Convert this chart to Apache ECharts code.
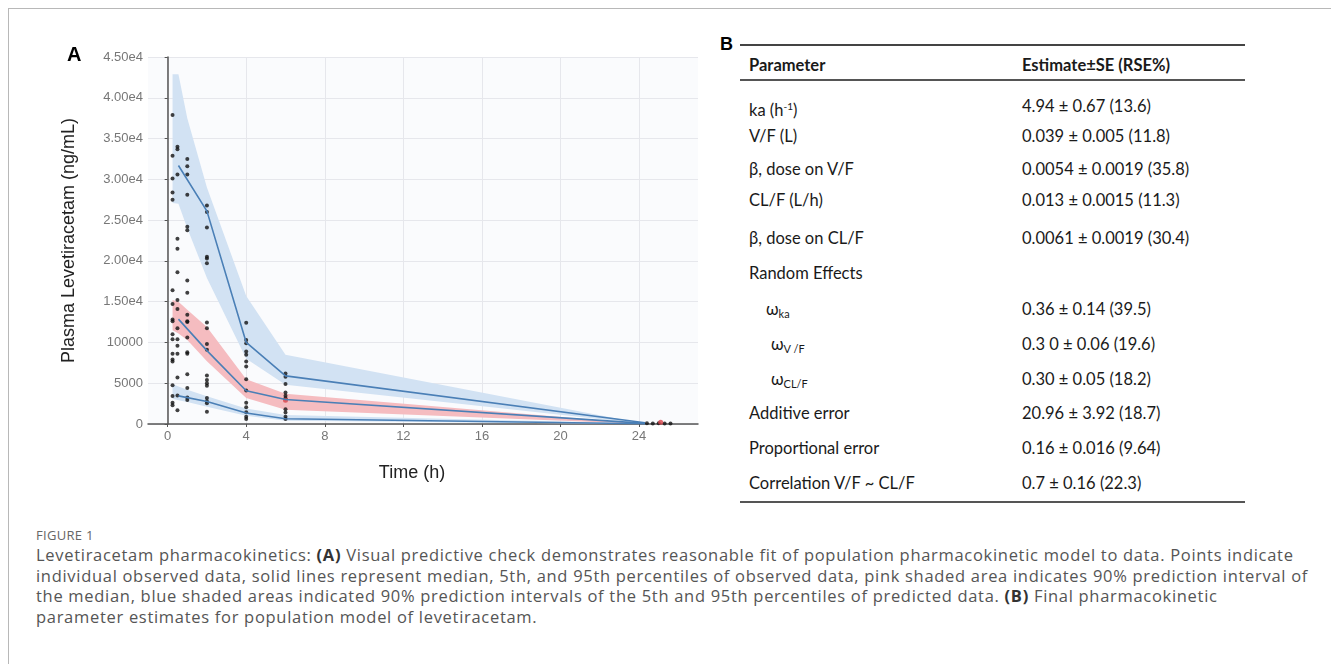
<!DOCTYPE html>
<html>
<head>
<meta charset="utf-8">
<script src="https://cdn.jsdelivr.net/npm/echarts@6/dist/echarts.min.js"></script>
<style>
  body { margin: 0; width: 1331px; height: 664px; overflow: hidden; background: #fff; position: relative; }
  #frame { position: absolute; left: 8px; top: 8px; width: 1340px; height: 680px; border-left: 1.5px solid #b8b8b8; border-top: 1.5px solid #b8b8b8; }
  #chart { position: absolute; left: 0; top: 0; width: 720px; height: 520px; }
  .panel { position: absolute; font-family: "Liberation Sans", Arial, sans-serif; font-weight: bold; color: #000; }
  .rule { position: absolute; left: 740px; width: 505px; background: #444; }
  .cell { position: absolute; font-family: Lato, "Noto Sans", sans-serif; font-size: 16.5px; line-height: 20px; color: #1a1a1a; white-space: nowrap; }
  .cell sub { font-size: 11px; vertical-align: -3px; }
  .cell sup { font-size: 10px; vertical-align: 6px; }
  #figlabel { position: absolute; left: 36px; top: 526px; font-family: "Open Sans", sans-serif; font-size: 13px; color: #666; letter-spacing: 0.3px; }
  #caption { position: absolute; left: 36px; top: 545px; font-family: "Open Sans", sans-serif; font-size: 16.5px; line-height: 20.5px; color: #555; letter-spacing: 0.7px; white-space: nowrap; }
  #caption b { color: #333; }
</style>
</head>
<body>
<div id="frame"></div>
<div id="chart"></div>
<div class="panel" style="left:67px; top:43px; font-size:20px;">A</div>
<div class="panel" style="left:720px; top:34px; font-size:18px;">B</div>
<div id="table"></div>
<div id="figlabel">FIGURE 1</div>
<div id="caption"></div>
<script>
// observed concentrations (ng/mL) by nominal sampling time
const obsTimes = [0.25, 0.5, 1, 2, 4, 6];
const obsAt025 = [37900, 32900, 30100, 28400, 27500, 16400, 14700, 12800, 12600, 11000, 10400, 8600, 7900, 7650, 4750, 3440, 2620, 2300];
const obsAt05 = [34000, 33700, 30600, 22700, 21500, 18600, 15200, 14100, 11750, 10400, 9600, 8600, 5700, 3500, 1700];
const obsAt1 = [32500, 31600, 30600, 28100, 24200, 23750, 17600, 16100, 13400, 12600, 12500, 10600, 8800, 8600, 6100, 4400, 3250, 2950];
const obsAt2 = [26800, 26000, 24100, 20500, 20300, 19700, 12450, 11750, 9800, 9100, 5950, 5400, 5000, 4700, 3200, 2800, 2550, 1500];
const obsAt4 = [12400, 10300, 9900, 8900, 8500, 7650, 7050, 5500, 4100, 2620, 2050, 1430, 900, 620];
const obsAt6 = [6200, 5800, 4900, 3850, 3450, 3150, 1800, 1400, 900, 620];
const tailTimes = [24.4, 24.7, 25.0, 25.3, 25.6];
const tailConc = [80, 60, 90, 70, 50];
const redTimes = [6, 25.1];
const redConc = [2900, 220];

// prediction intervals (shaded)
const bandT = [0.25, 0.55, 1, 2, 4, 6, 24.3];
const pi95Hi = [42900, 42900, 37500, 29000, 15700, 8500, 0];
const pi95Lo = [27100, 27000, 24000, 17900, 8000, 4800, 0];
const pi50Hi = [15200, 15000, 14000, 11900, 5500, 3700, 0];
const pi50Lo = [11500, 11100, 10300, 7700, 3200, 1750, 0];
const pi05Hi = [4900, 4600, 4200, 3400, 1900, 1100, 60];
const pi05Lo = [3100, 2900, 2700, 2100, 1000, 400, 0];

// observed percentiles (solid lines)
const lineT = [0.55, 2, 4, 6, 24.3];
const obs95 = [31700, 26100, 10000, 5900, 150];
const obs50 = [12860, 9000, 4080, 3000, 80];
const obs05 = [3450, 2750, 1350, 650, 30];

const xTicks = [0, 4, 8, 12, 16, 20, 24];

// table B
const paramNames = ['ka (h<sup>-1</sup>)', 'V/F (L)', 'β, dose on V/F', 'CL/F (L/h)', 'β, dose on CL/F',
  'Random Effects', 'ω<sub>ka</sub>', 'ω<sub>V /F</sub>', 'ω<sub>CL/F</sub>',
  'Additive error', 'Proportional error', 'Correlation V/F ~ CL/F'];
const paramValues = ['4.94 ± 0.67 (13.6)', '0.039 ± 0.005 (11.8)', '0.0054 ± 0.0019 (35.8)', '0.013 ± 0.0015 (11.3)',
  '0.0061 ± 0.0019 (30.4)', '', '0.36 ± 0.14 (39.5)', '0.3 0 ± 0.06 (19.6)', '0.30 ± 0.05 (18.2)',
  '20.96 ± 3.92 (18.7)', '0.16 ± 0.016 (9.64)', '0.7 ± 0.16 (22.3)'];

const captionLines = [
  'Levetiracetam pharmacokinetics: <b>(A)</b> Visual predictive check demonstrates reasonable fit of population pharmacokinetic model to data. Points indicate',
  'individual observed data, solid lines represent median, 5th, and 95th percentiles of observed data, pink shaded area indicates 90% prediction interval of',
  'the median, blue shaded areas indicated 90% prediction intervals of the 5th and 95th percentiles of predicted data. <b>(B)</b> Final pharmacokinetic',
  'parameter estimates for population model of levetiracetam.'
];

// ---- table layout
const rowCenters = [106, 136, 169, 200, 238, 273, 309, 344, 379, 413, 448, 483];
const rowIndent = [0, 0, 0, 0, 0, 0, 17, 22, 22, 0, 0, 0];
let html = '';
html += '<div class="rule" style="top:44px;height:1.5px"></div>';
html += '<div class="rule" style="top:79px;height:2px;background:#555"></div>';
html += '<div class="rule" style="top:501px;height:2px;background:#555"></div>';
html += '<div class="cell" style="left:749px;top:55px;font-weight:bold">Parameter</div>';
html += '<div class="cell" style="left:1022px;top:55px;font-weight:bold">Estimate±SE (RSE%)</div>';
paramNames.forEach(function (name, i) {
  const top = rowCenters[i] - 10;
  html += '<div class="cell" style="left:' + (749 + rowIndent[i]) + 'px;top:' + top + 'px">' + name + '</div>';
  html += '<div class="cell" style="left:1022px;top:' + top + 'px">' + paramValues[i] + '</div>';
});
document.getElementById('table').innerHTML = html;
document.getElementById('caption').innerHTML = captionLines.join('<br>');

// ---- chart
const chart = echarts.init(document.getElementById('chart'));

const obsGroups = [obsAt025, obsAt05, obsAt1, obsAt2, obsAt4, obsAt6];
const obsPoints = [];
obsGroups.forEach(function (group, i) {
  group.forEach(function (c) { obsPoints.push([obsTimes[i], c]); });
});
tailTimes.forEach(function (t, i) { obsPoints.push([t, tailConc[i]]); });
const redPoints = redTimes.map(function (t, i) { return [t, redConc[i]]; });

function band(hi, lo, color) {
  return {
    type: 'custom',
    silent: true,
    data: [[bandT[0], hi[0]]],
    renderItem: function (params, api) {
      const pts = [];
      for (let i = 0; i < bandT.length; i++) pts.push(api.coord([bandT[i], hi[i]]));
      for (let i = bandT.length - 1; i >= 0; i--) pts.push(api.coord([bandT[i], lo[i]]));
      return { type: 'polygon', shape: { points: pts }, style: { fill: color } };
    }
  };
}

function pctLine(vals) {
  return {
    type: 'line',
    silent: true,
    symbol: 'none',
    data: lineT.map(function (t, i) { return [t, vals[i]]; }),
    lineStyle: { color: '#4a7fb6', width: 1.6 }
  };
}

const option = {
  animation: false,
  textStyle: { fontFamily: '"Liberation Sans", Arial, sans-serif' },
  grid: {
    left: 148, top: 57, width: 550, height: 367,
    show: true, backgroundColor: '#fafbfd', borderWidth: 0
  },
  xAxis: {
    type: 'value',
    min: -1,
    max: 27,
    name: 'Time (h)',
    nameLocation: 'middle',
    nameGap: 40,
    nameTextStyle: { fontSize: 18, color: '#222', padding: [0, 22, 0, 0] },
    axisLine: { show: true, onZero: false, lineStyle: { color: '#555', width: 1.5 } },
    axisTick: { show: true, length: 3, customValues: xTicks, lineStyle: { color: '#555' } },
    axisLabel: { customValues: xTicks, color: '#777', fontSize: 13, margin: 6 },
    splitLine: { show: true, lineStyle: { color: '#e6e7ec', width: 1 } }
  },
  yAxis: {
    type: 'value',
    min: 0,
    max: 45000,
    interval: 5000,
    name: 'Plasma Levetiracetam (ng/mL)',
    nameLocation: 'middle',
    nameGap: 70,
    nameTextStyle: { fontSize: 18, color: '#222' },
    axisLine: { show: true, lineStyle: { color: '#555', width: 1.5 } },
    axisTick: { show: true, length: 3, lineStyle: { color: '#555' } },
    axisLabel: {
      color: '#777', fontSize: 13, margin: 5,
      formatter: function (v) { return v >= 15000 ? (v / 10000).toFixed(2) + 'e4' : String(v); }
    },
    splitLine: { show: true, lineStyle: { color: '#e6e7ec', width: 1 } }
  },
  series: [
    band(pi95Hi, pi95Lo, '#d2e2f3'),
    band(pi50Hi, pi50Lo, '#f5bcc0'),
    band(pi05Hi, pi05Lo, '#d2e2f3'),
    pctLine(obs95),
    pctLine(obs50),
    pctLine(obs05),
    {
      type: 'scatter',
      silent: true,
      symbolSize: 4,
      data: obsPoints,
      itemStyle: { color: '#111' }
    },
    {
      type: 'scatter',
      silent: true,
      symbolSize: 5,
      data: redPoints,
      itemStyle: { color: '#d9434a' }
    }
  ]
};

chart.setOption(option);
</script>
</body>
</html>
